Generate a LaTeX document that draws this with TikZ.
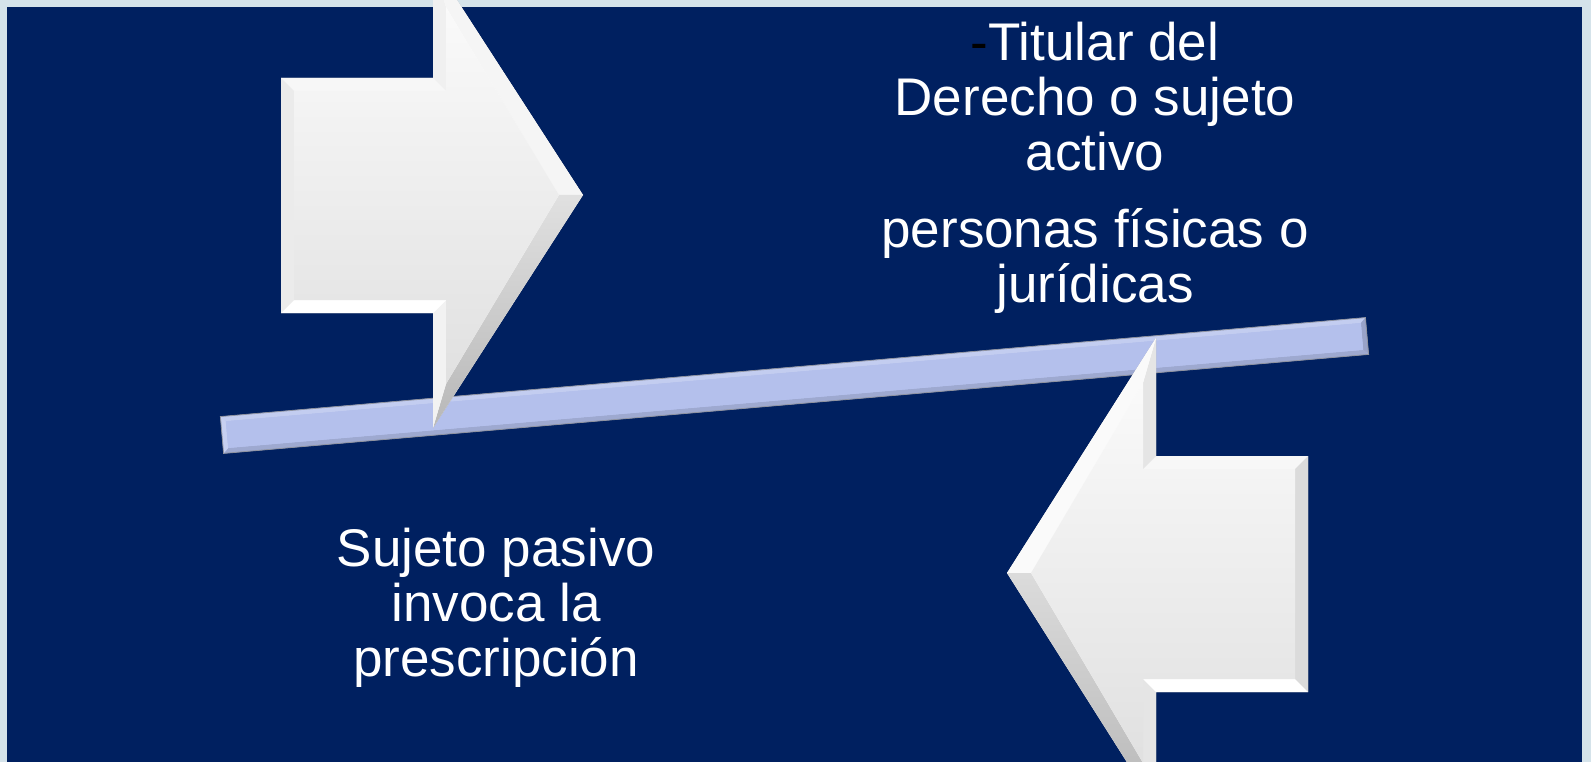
\documentclass[tikz,border=0pt]{standalone}
\usepackage{fontspec}
\setmainfont{Liberation Sans}
\definecolor{navy}{HTML}{002060}
\definecolor{framecol}{HTML}{D5E3EA}
\definecolor{barfill}{HTML}{B4C0EC}
\begin{document}
\begin{tikzpicture}[x=1pt,y=-1pt,
  lbl/.style={text=white, align=center, font=\fontsize{53}{55}\selectfont, inner sep=0pt, anchor=base},
  shadowA/.style={fill=black, opacity=0.18},
  shadowB/.style={fill=black, opacity=0.25},
]
\useasboundingbox (0,0) rectangle (1591,762);
\clip (0,0) rectangle (1591,762);
\fill[framecol] (0,0) rectangle (1591,762);
\fill[navy] (7,7) rectangle (1582,780);

% ---------- bar ----------
\coordinate (bLT) at (220.4,416.6);
\coordinate (bRT) at (1365.4,317.6);
\coordinate (bRB) at (1368.6,354.4);
\coordinate (bLB) at (223.6,453.4);
\coordinate (iLT) at (225.8,421.2);
\coordinate (iRT) at (1360.9,323.0);
\coordinate (iRB) at (1363.2,349.9);
\coordinate (iLB) at (228.2,448.0);
\fill[shadowA,shift={(3,5)}] (bLT) -- (bRT) -- (bRB) -- (bLB) -- cycle;
\fill[shadowB,shift={(1.5,2.5)}] (bLT) -- (bRT) -- (bRB) -- (bLB) -- cycle;
\fill[barfill] (bLT) -- (bRT) -- (bRB) -- (bLB) -- cycle;
\fill[barfill!80!white] (bLT) -- (bRT) -- (iRT) -- (iLT) -- cycle;
\fill[barfill!85!black] (bRT) -- (bRB) -- (iRB) -- (iRT) -- cycle;
\fill[barfill!88!black] (bRB) -- (bLB) -- (iLB) -- (iRB) -- cycle;
\fill[barfill!75!white] (bLB) -- (bLT) -- (iLT) -- (iLB) -- cycle;
\fill[barfill] (iLT) -- (iRT) -- (iRB) -- (iLB) -- cycle;
\draw[gray!70!barfill, line width=0.8pt] (bLT) -- (bRT) -- (bRB) -- (bLB) -- cycle;

% ---------- arrow 1 (pointing right) ----------
\coordinate (a1) at (281,78);
\coordinate (a2) at (433,78);
\coordinate (a3) at (433,-37);
\coordinate (a4) at (583,195);
\coordinate (a5) at (433,428);
\coordinate (a6) at (433,313);
\coordinate (a7) at (281,313);
\coordinate (ai1) at (294,91);
\coordinate (ai2) at (446,91);
\coordinate (ai3) at (446,7);
\coordinate (ai4) at (559,195);
\coordinate (ai5) at (446,384);
\coordinate (ai6) at (446,300);
\coordinate (ai7) at (294,300);
\fill[shadowA,shift={(4,6)}] (a1) -- (a2) -- (a3) -- (a4) -- (a5) -- (a6) -- (a7) -- cycle;
\fill[shadowB,shift={(2,3)}] (a1) -- (a2) -- (a3) -- (a4) -- (a5) -- (a6) -- (a7) -- cycle;
\fill[white] (a1) -- (a2) -- (a3) -- (a4) -- (a5) -- (a6) -- (a7) -- cycle;
\fill[black!3] (a1) -- (a2) -- (ai2) -- (ai1) -- cycle;
\fill[black!6] (a2) -- (a3) -- (ai3) -- (ai2) -- cycle;
\fill[black!4] (a3) -- (a4) -- (ai4) -- (ai3) -- cycle;
\shade[top color=black!12, bottom color=black!28] (a4) -- (a5) -- (ai5) -- (ai4) -- cycle;
\fill[black!5] (a5) -- (a6) -- (ai6) -- (ai5) -- cycle;
\fill[white] (a6) -- (a7) -- (ai7) -- (ai6) -- cycle;
\fill[black!8] (a7) -- (a1) -- (ai1) -- (ai7) -- cycle;
\shade[top color=black!2, bottom color=black!12] (ai1) -- (ai2) -- (ai3) -- (ai4) -- (ai5) -- (ai6) -- (ai7) -- cycle;

% ---------- arrow 2 (pointing left) ----------
\coordinate (b1) at (1308,456);
\coordinate (b2) at (1156,456);
\coordinate (b3) at (1156,338);
\coordinate (b4) at (1007,573);
\coordinate (b5) at (1156,808);
\coordinate (b6) at (1156,692);
\coordinate (b7) at (1308,692);
\coordinate (bi1) at (1295,469);
\coordinate (bi2) at (1143,469);
\coordinate (bi3) at (1143,383);
\coordinate (bi4) at (1031,573);
\coordinate (bi5) at (1143,763);
\coordinate (bi6) at (1143,679);
\coordinate (bi7) at (1295,679);
\fill[shadowA,shift={(4,6)}] (b1) -- (b2) -- (b3) -- (b4) -- (b5) -- (b6) -- (b7) -- cycle;
\fill[shadowB,shift={(2,3)}] (b1) -- (b2) -- (b3) -- (b4) -- (b5) -- (b6) -- (b7) -- cycle;
\fill[white] (b1) -- (b2) -- (b3) -- (b4) -- (b5) -- (b6) -- (b7) -- cycle;
\fill[black!3] (b1) -- (b2) -- (bi2) -- (bi1) -- cycle;
\fill[black!10] (b2) -- (b3) -- (bi3) -- (bi2) -- cycle;
\fill[black!2] (b3) -- (b4) -- (bi4) -- (bi3) -- cycle;
\shade[top color=black!14, bottom color=black!28] (b4) -- (b5) -- (bi5) -- (bi4) -- cycle;
\fill[black!10] (b5) -- (b6) -- (bi6) -- (bi5) -- cycle;
\fill[white] (b6) -- (b7) -- (bi7) -- (bi6) -- cycle;
\fill[black!14] (b7) -- (b1) -- (bi1) -- (bi7) -- cycle;
\shade[top color=black!2, bottom color=black!12] (bi1) -- (bi2) -- (bi3) -- (bi4) -- (bi5) -- (bi6) -- (bi7) -- cycle;

% ---------- texts ----------
\node[lbl] (t1) at (1095,170.7) {{\color{black}-}Titular del\\Derecho o sujeto\\activo};
\node[lbl] (t2) at (1095,302) {personas físicas o\\jurídicas};
\node[lbl] (t3) at (496,676) {Sujeto pasivo\\invoca la\\prescripción};
\end{tikzpicture}
\end{document}
